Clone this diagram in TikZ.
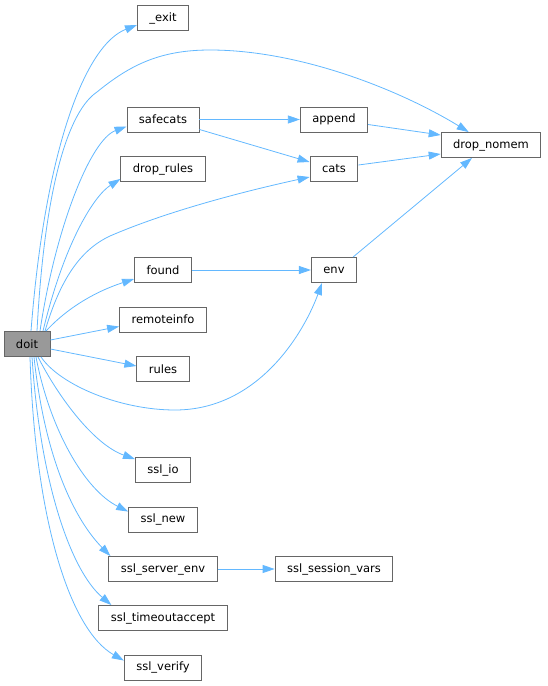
\documentclass[tikz,border=0pt]{standalone}
\usepackage{fontspec}
\newfontfamily\dejavu{DejaVu Sans}
\usepackage{tikz}
\usetikzlibrary{arrows.meta}
\usepackage{xcolor}
\definecolor{edgeblue}{HTML}{63B8FF}
\definecolor{boxgray}{HTML}{666666}
\definecolor{doitgray}{HTML}{999999}

\begin{document}
\begin{tikzpicture}[x=1pt, y=1pt,
    fn/.style={draw=boxgray, fill=white, line width=0.9pt, minimum height=25pt,
      inner xsep=12pt, inner ysep=0pt, font=\dejavu\fontsize{11.5}{12}\selectfont},
    call/.style={draw=edgeblue, line width=0.8pt, -{Triangle[length=12pt,width=8pt,fill=edgeblue]}}]
    \useasboundingbox (0,0) rectangle (547,-686);
    % nodes
    \node[fn, fill=doitgray] (doit) at (27,-344) {doit};
    \node[fn] (exit) at (163,-18) {\_exit};
    \node[fn] (safecats) at (163,-119.5) {safecats};
    \node[fn] (droprules) at (163,-169) {drop\_rules};
    \node[fn] (found) at (163,-270) {found};
    \node[fn] (remoteinfo) at (163,-319.5) {remoteinfo};
    \node[fn] (rules) at (163,-369) {rules};
    \node[fn] (sslio) at (163,-470) {ssl\_io};
    \node[fn] (sslnew) at (163,-519.5) {ssl\_new};
    \node[fn] (sslserverenv) at (163,-569) {ssl\_server\_env};
    \node[fn] (ssltimeout) at (163,-618) {ssl\_timeoutaccept};
    \node[fn] (sslverify) at (163,-667.5) {ssl\_verify};
    \node[fn] (append) at (334,-119.5) {append};
    \node[fn] (cats) at (334,-169) {cats};
    \node[fn] (env) at (334,-270) {env};
    \node[fn] (sslsessionvars) at (334,-569) {ssl\_session\_vars};
    \node[fn] (dropnomem) at (491,-145) {drop\_nomem};

    % calls from doit, upwards
    \draw[call] ([xshift=4pt]doit.north) .. controls (45,-150) and (85,-45) .. ([yshift=-7pt]exit.west);
    \draw[call] ([xshift=10pt]doit.north) .. controls (45,-180) and (70,-110) .. (97,-92)
        .. controls (130,-65) and (160,-50) .. (210,-50)
        .. controls (300,-50) and (400,-90) .. ([xshift=28pt]dropnomem.north west);
    \draw[call] ([xshift=13pt]doit.north) .. controls (55,-230) and (90,-140) .. ([yshift=-7pt]safecats.west);
    \draw[call] ([xshift=16pt]doit.north) .. controls (65,-240) and (95,-195) .. ([yshift=3pt]droprules.south west);
    \draw[call] ([xshift=18pt]doit.north) .. controls (60,-280) and (80,-250) .. (110,-236)
        .. controls (170,-210) and (250,-190) .. ([yshift=-8pt]cats.west);
    \draw[call] ([xshift=19pt]doit.north) .. controls (70,-305) and (100,-290) .. ([yshift=-9pt]found.west);
    \draw[call] ([yshift=4pt]doit.east) -- ([yshift=-7pt]remoteinfo.west);
    \draw[call] ([yshift=-5pt]doit.east) -- ([yshift=3pt]rules.west);
    % calls from doit, downwards
    \draw[call] ([xshift=14pt]doit.south) .. controls (60,-385) and (120,-410) .. (175,-410)
        .. controls (260,-410) and (305,-330) .. ([xshift=-12pt]env.south);
    \draw[call] ([xshift=11pt]doit.south) .. controls (60,-400) and (95,-445) .. ([yshift=-2pt]sslio.north west);
    \draw[call] ([xshift=9pt]doit.south) .. controls (50,-430) and (85,-490) .. ([yshift=-5pt]sslnew.north west);
    \draw[call] ([xshift=7pt]doit.south) .. controls (45,-460) and (75,-520) .. ([xshift=2pt]sslserverenv.north west);
    \draw[call] ([xshift=5pt]doit.south) .. controls (40,-480) and (70,-570) .. ([xshift=13pt]ssltimeout.north west);
    \draw[call] ([xshift=3pt]doit.south) .. controls (35,-520) and (70,-630) .. ([yshift=-6pt]sslverify.north west);

    % further calls
    \draw[call] (safecats.east) -- (append.west);
    \draw[call] ([yshift=-10pt]safecats.east) -- ([yshift=7pt]cats.west);
    \draw[call] ([yshift=-5pt]append.east) -- ([yshift=10pt]dropnomem.west);
    \draw[call] ([yshift=4pt]cats.east) -- ([yshift=-9pt]dropnomem.west);
    \draw[call] ([xshift=-4pt]env.north east) -- ([xshift=-19pt]dropnomem.south);
    \draw[call] (found.east) -- (env.west);
    \draw[call] (sslserverenv.east) -- (sslsessionvars.west);
\end{tikzpicture}
\end{document}
